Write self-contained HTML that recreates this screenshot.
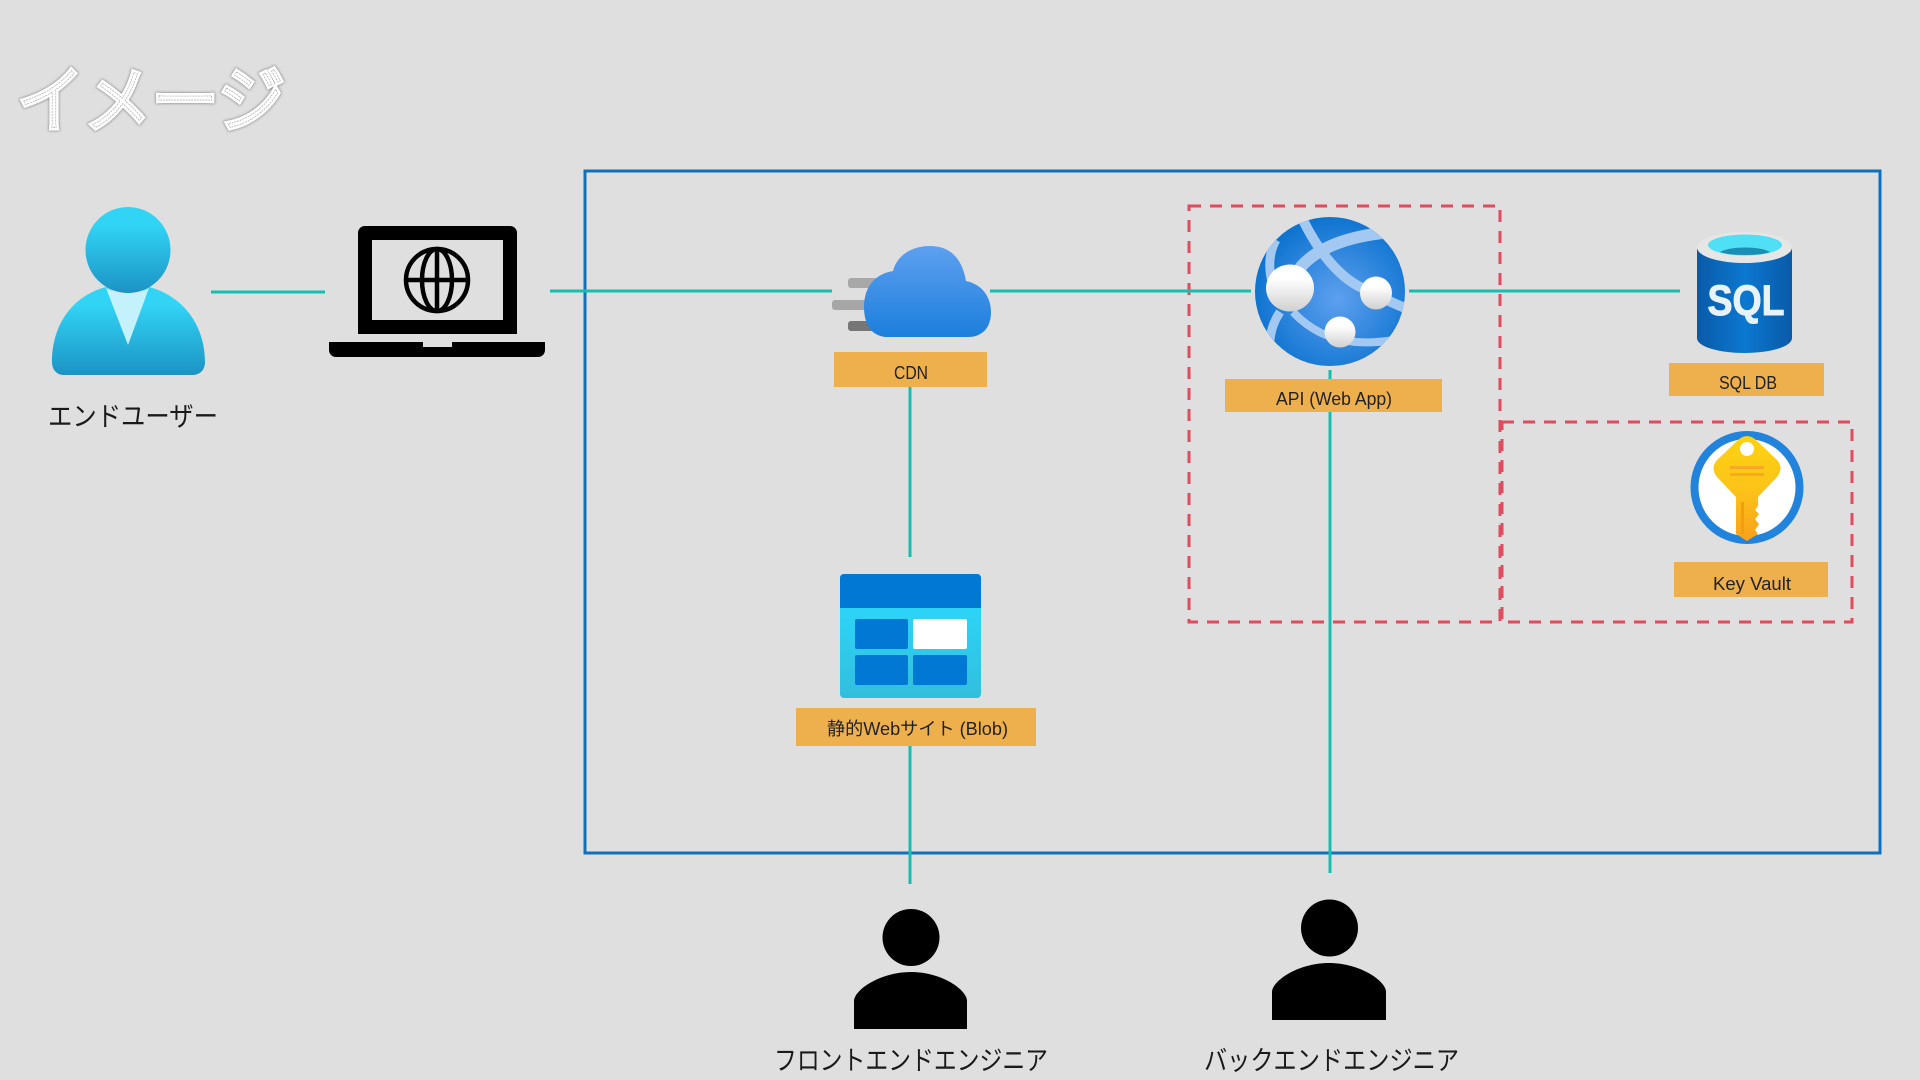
<!DOCTYPE html>
<html lang="ja"><head><meta charset="utf-8"><title>イメージ</title>
<style>
html,body{margin:0;padding:0;width:1920px;height:1080px;overflow:hidden;background:#dfdfdf}
svg{display:block}
text{font-family:"Liberation Sans","Noto Sans CJK JP",sans-serif;fill:#222}
.lb{font-size:18px;text-anchor:middle}
.big{font-size:27px;fill:#1a1a1a}
</style></head><body>
<svg width="1920" height="1080" viewBox="0 0 1920 1080" xmlns="http://www.w3.org/2000/svg">
<defs>
<linearGradient id="u1" x1="0" y1="0" x2="0" y2="1"><stop offset="0.2" stop-color="#32d4f5"/><stop offset="1" stop-color="#1b93c4"/></linearGradient>
<linearGradient id="cl" gradientUnits="userSpaceOnUse" x1="0" y1="246" x2="0" y2="337"><stop offset="0" stop-color="#5ea0ef"/><stop offset="1" stop-color="#1b7fdc"/></linearGradient>
<radialGradient id="gl" cx="0.55" cy="0.55" r="0.55"><stop offset="0" stop-color="#5ea0ef"/><stop offset="1" stop-color="#0e74d0"/></radialGradient>
<linearGradient id="nd" x1="0" y1="0" x2="0" y2="1"><stop offset="0.3" stop-color="#fff"/><stop offset="1" stop-color="#d0d0d0"/></linearGradient>
<linearGradient id="sq" x1="0" y1="0" x2="1" y2="0"><stop offset="0" stop-color="#0a5aa8"/><stop offset="0.5" stop-color="#0b78d0"/><stop offset="1" stop-color="#0a5aa8"/></linearGradient>
<linearGradient id="bb" x1="0" y1="0" x2="0" y2="1"><stop offset="0.2" stop-color="#2cd6fa"/><stop offset="1" stop-color="#32bedd"/></linearGradient>
<linearGradient id="ky" x1="0" y1="0" x2="0" y2="1"><stop offset="0" stop-color="#fdd310"/><stop offset="0.5" stop-color="#fcc419"/><stop offset="1" stop-color="#f9a01b"/></linearGradient>
<filter id="sh" x="-10%" y="-10%" width="120%" height="120%"><feGaussianBlur stdDeviation="1.2"/></filter>
<clipPath id="gc"><ellipse cx="1330" cy="291.5" rx="75" ry="74.5"/></clipPath>
</defs>

<!-- title -->
<g font-size="72" style="font-weight:300">
<text x="17" y="126" textLength="268" lengthAdjust="spacingAndGlyphs" style="fill:none;stroke:#8a8a8a;stroke-width:7" filter="url(#sh)">イメージ</text>
<text x="17" y="126" textLength="268" lengthAdjust="spacingAndGlyphs" style="fill:none;stroke:#ffffff;stroke-width:6;stroke-linejoin:miter">イメージ</text>
<text x="17" y="126" textLength="268" lengthAdjust="spacingAndGlyphs" style="fill:#fff;stroke:#a8a8a8;stroke-width:.7;stroke-dasharray:2 1">イメージ</text>
</g>

<!-- outer box -->
<rect x="585" y="171" width="1295" height="682" fill="none" stroke="#1170bd" stroke-width="3"/>

<!-- dashed boxes -->
<g fill="none" stroke="#e14b5e" stroke-width="3" stroke-dasharray="12 9">
<rect x="1189" y="206" width="311" height="416"/>
<rect x="1502" y="422" width="350" height="200"/>
</g>

<!-- connectors -->
<g stroke="#14bfb0" stroke-width="3" fill="none">
<line x1="211" y1="292" x2="325" y2="292"/>
<line x1="550" y1="291" x2="832" y2="291"/>
<line x1="990" y1="291" x2="1251" y2="291"/>
<line x1="1409" y1="291" x2="1680" y2="291"/>
<line x1="910" y1="387" x2="910" y2="557"/>
<line x1="910" y1="746" x2="910" y2="884"/>
<line x1="1330" y1="370" x2="1330" y2="873"/>
</g>

<!-- end user -->
<path d="M52 362C52 325 72 296 106 287L128 300L149 287C183 296 205 325 205 362C205 370 200 375 192 375H64C57 375 52 370 52 362Z" fill="url(#u1)"/>
<ellipse cx="128" cy="250" rx="42.5" ry="43" fill="url(#u1)"/>
<path d="M106 288Q128 300 149 288L128 345Z" fill="#c3f1fc"/>
<text class="big" x="48" y="426" textLength="170" lengthAdjust="spacingAndGlyphs">エンドユーザー</text>

<!-- laptop -->
<path d="M365 226H510a7 7 0 0 1 7 7V334H358V233a7 7 0 0 1 7-7Z" fill="#000"/>
<rect x="372" y="240" width="131" height="80" fill="#dfdfdf"/>
<path d="M329 342H423V347H452V342H545V350a7 7 0 0 1-7 7H336a7 7 0 0 1-7-7Z" fill="#000"/>
<g fill="none" stroke="#000" stroke-width="4.5">
<ellipse cx="437" cy="280" rx="31" ry="31"/>
<ellipse cx="437" cy="280" rx="15" ry="31"/>
<line x1="437" y1="249" x2="437" y2="311"/>
<line x1="406" y1="280" x2="468" y2="280"/>
</g>

<!-- CDN -->
<rect x="848" y="278" width="30" height="10" rx="3" fill="#a8a8a8"/>
<rect x="832" y="300" width="40" height="10" rx="3" fill="#a6a6a6"/>
<rect x="848" y="321" width="30" height="10" rx="3" fill="#767676"/>
<path d="M886 337C872 336 864 325 864 307C864 288 874 274 893 271C897 255 912 246 930 246C950 246 962 258 966 281C981 284 991 296 991 312C991 328 982 337 968 337Z" fill="url(#cl)"/>
<rect x="834" y="352" width="153" height="35" fill="#eeb04d"/>
<text class="lb" x="911" y="379" textLength="34" lengthAdjust="spacingAndGlyphs">CDN</text>

<!-- web app -->
<ellipse cx="1330" cy="291.5" rx="75" ry="74.5" fill="url(#gl)"/>
<g fill="none" stroke="#a3c9f3" clip-path="url(#gc)">
<path d="M1302 218C1315 245 1335 275 1362 288C1378 296 1392 303 1410 310" stroke-width="10"/>
<path d="M1295 275C1310 250 1345 236 1392 232" stroke-width="12"/>
<path d="M1276 240Q1266 258 1272 282" stroke-width="9"/>
<path d="M1280 312Q1268 330 1270 352" stroke-width="9"/>
<path d="M1293 312C1310 330 1330 340 1356 342C1370 343 1380 342 1395 340" stroke-width="8"/>
</g>
<ellipse cx="1290" cy="288" rx="24" ry="23.5" fill="url(#nd)"/>
<ellipse cx="1376" cy="293" rx="16" ry="16.5" fill="url(#nd)"/>
<ellipse cx="1340" cy="332" rx="15.500" ry="15.500" fill="url(#nd)"/>
<rect x="1225" y="379" width="217" height="33" fill="#eeb04d"/>
<text class="lb" x="1334" y="405" textLength="116" lengthAdjust="spacingAndGlyphs">API (Web App)</text>

<!-- SQL -->
<path d="M1697 247V338C1697 347 1720 353 1744.500 353C1769 353 1792 347 1792 338V247Z" fill="url(#sq)"/>
<ellipse cx="1744.500" cy="247.500" rx="47.500" ry="15.500" fill="#e6e6e6"/>
<ellipse cx="1745" cy="245" rx="37" ry="10.500" fill="#50e0f5"/>
<path d="M1720 252C1730 246 1760 246 1770 252C1760 256 1730 256 1720 252Z" fill="#1c8db5"/>
<text x="1746" y="315" textLength="77" lengthAdjust="spacingAndGlyphs" style="font-size:43px;font-weight:700;fill:#e8f2fb;stroke:#e8f2fb;stroke-width:1;text-anchor:middle">SQL</text>
<rect x="1669" y="363" width="155" height="33" fill="#eeb04d"/>
<text class="lb" x="1748" y="389" textLength="58" lengthAdjust="spacingAndGlyphs">SQL DB</text>

<!-- key vault -->
<circle cx="1747" cy="487.500" r="52.500" fill="#fff" stroke="#2183dc" stroke-width="8"/>
<path d="M1737 441Q1747 431 1757 441L1777 460Q1784 468 1777 477L1758 497V506L1755 510L1759 514L1755 519L1759 524L1755 530L1758 534L1747 541L1736 534V497L1717 477Q1710 468 1717 460Z" fill="url(#ky)"/>
<circle cx="1747" cy="449" r="7" fill="#fff"/>
<rect x="1730" y="466" width="34" height="3" fill="#f9a825"/>
<rect x="1730" y="473" width="34" height="3" fill="#f9a825"/>
<rect x="1741" y="502" width="3" height="32" fill="#f59e0b"/>
<rect x="1674" y="562" width="154" height="35" fill="#eeb04d"/>
<text class="lb" x="1752" y="590" textLength="78" lengthAdjust="spacingAndGlyphs">Key Vault</text>

<!-- blob -->
<rect x="840" y="574" width="141" height="124" rx="4" fill="url(#bb)"/>
<path d="M844 574H977a4 4 0 0 1 4 4V608H840V578a4 4 0 0 1 4-4Z" fill="#0078d4"/>
<rect x="855" y="619" width="53" height="30" rx="2" fill="#0078d4"/>
<rect x="913" y="619" width="54" height="30" rx="2" fill="#fff"/>
<rect x="855" y="655" width="53" height="30" rx="2" fill="#0078d4"/>
<rect x="913" y="655" width="54" height="30" rx="2" fill="#0078d4"/>
<rect x="796" y="708" width="240" height="38" fill="#eeb04d"/>
<text x="827" y="735" textLength="181" lengthAdjust="spacingAndGlyphs" style="font-size:18px">静的Webサイト (Blob)</text>

<!-- engineers -->
<ellipse cx="911" cy="937.500" rx="28.500" ry="28.500" fill="#000"/>
<path d="M854 1029V1001C854 990 880 972 911 972C942 972 967 990 967 1001V1029Z" fill="#000"/>
<ellipse cx="1329.500" cy="928" rx="28.500" ry="28.500" fill="#000"/>
<path d="M1272 1020V992C1272 981 1298 963 1329 963C1360 963 1386 981 1386 992V1020Z" fill="#000"/>
<text class="big" x="774" y="1070" textLength="274" lengthAdjust="spacingAndGlyphs">フロントエンドエンジニア</text>
<text class="big" x="1204" y="1070" textLength="255" lengthAdjust="spacingAndGlyphs">バックエンドエンジニア</text>
</svg>
</body></html>
